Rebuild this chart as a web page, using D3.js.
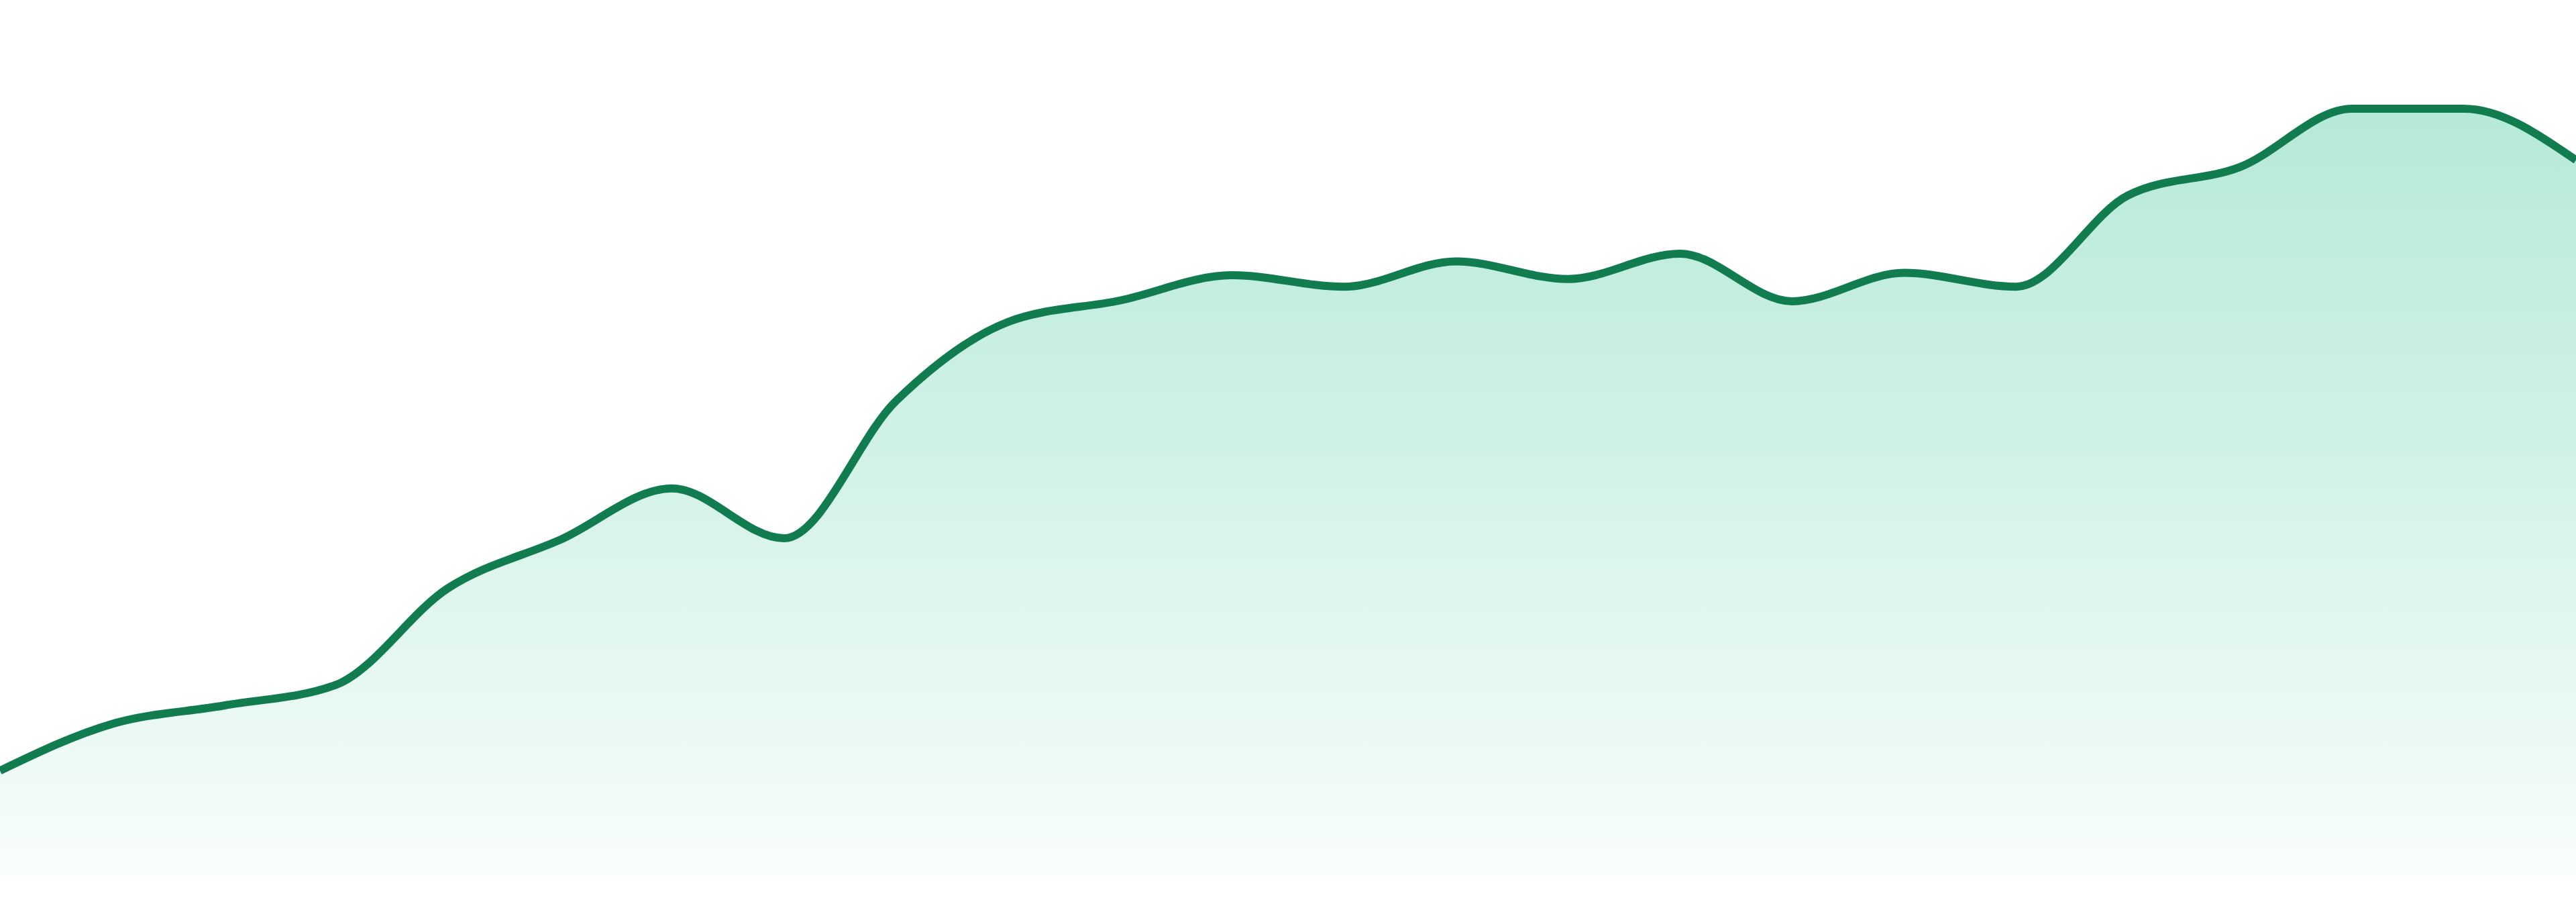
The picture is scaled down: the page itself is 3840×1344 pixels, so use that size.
<!DOCTYPE html>
<html>
<head>
<meta charset="utf-8">
<script src="https://cdn.jsdelivr.net/npm/d3@7"></script>
<style>
  html, body { margin: 0; padding: 0; background: #ffffff; }
  #chart { width: 3840px; height: 1344px; }
</style>
</head>
<body>
<div id="chart"></div>
<script>
// values, one per step
const steps = d3.range(24);
const values = [
  13.7, 19.8, 22.2, 24.9, 37.5, 43.8, 50.5, 44.0, 61.9, 72.2, 75.0, 78.3,
  76.8, 80.1, 77.8, 81.1, 74.9, 78.6, 76.8, 88.7, 92.4, 100, 100, 93.3
];

const width = 3840;
const height = 1344;
const margin = { top: 162, right: 0, bottom: 39, left: 0 };

const data = steps.map((s, i) => ({ step: s, value: values[i] }));

const xScale = d3
  .scaleLinear()
  .domain(d3.extent(steps))
  .range([margin.left, width - margin.right]);

const yScale = d3
  .scaleLinear()
  .domain([0, 100])
  .range([height - margin.bottom, margin.top]);

const svg = d3
  .select("#chart")
  .append("svg")
  .attr("width", width)
  .attr("height", height);

// vertical fade for the area
const gradient = svg
  .append("defs")
  .append("linearGradient")
  .attr("id", "areaFade")
  .attr("gradientUnits", "userSpaceOnUse")
  .attr("x1", 0)
  .attr("x2", 0)
  .attr("y1", yScale(100))
  .attr("y2", yScale(0));

gradient.append("stop").attr("offset", "0%").attr("stop-color", "#10b981").attr("stop-opacity", 0.31);
gradient.append("stop").attr("offset", "45%").attr("stop-color", "#10b981").attr("stop-opacity", 0.19);
gradient.append("stop").attr("offset", "100%").attr("stop-color", "#10b981").attr("stop-opacity", 0.03);

const area = d3
  .area()
  .x((d) => xScale(d.step))
  .y0(yScale(0))
  .y1((d) => yScale(d.value))
  .curve(d3.curveMonotoneX);

const line = d3
  .line()
  .x((d) => xScale(d.step))
  .y((d) => yScale(d.value))
  .curve(d3.curveMonotoneX);

svg.append("path").datum(data).attr("d", area).attr("fill", "url(#areaFade)");

svg
  .append("path")
  .datum(data)
  .attr("d", line)
  .attr("fill", "none")
  .attr("stroke", "#127c51")
  .attr("stroke-width", 12)
  .attr("stroke-linejoin", "round");
</script>
</body>
</html>
